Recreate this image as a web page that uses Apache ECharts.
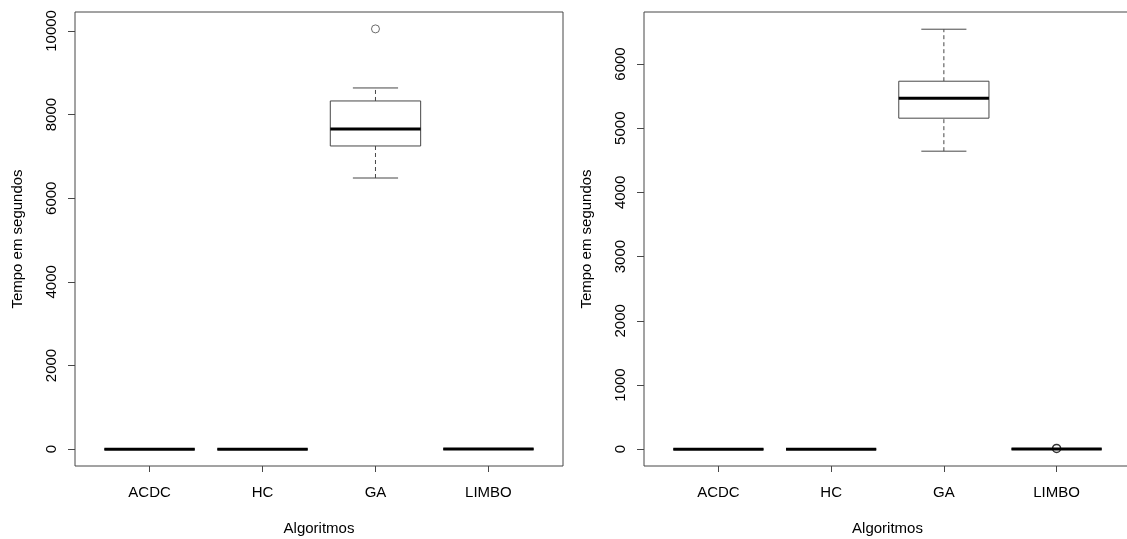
<!DOCTYPE html>
<html>
<head>
<meta charset="utf-8">
<script src="https://cdn.jsdelivr.net/npm/echarts@6/dist/echarts.min.js"></script>
<style>
  html, body { margin: 0; padding: 0; background: #fff; }
  #chart { width: 1127px; height: 539px; }
</style>
</head>
<body>
<div id="chart"></div>
<script>
// categorias (eixo x)
const algoritmos = ['ACDC', 'HC', 'GA', 'LIMBO']

// painel esquerdo: [min, q1, mediana, q3, max]
const boxesLeft = [
  [0.4, 0.6, 0.8, 1.0, 1.3],
  [0.5, 0.7, 0.9, 1.1, 1.4],
  [6483, 7249, 7656, 8325, 8636],
  [2.1, 2.6, 3.0, 3.4, 3.9]
]
const outliersLeft = [[3, 10048]]
const ticksLeft = [0, 2000, 4000, 6000, 8000, 10000]

// painel direito
const boxesRight = [
  [0.3, 0.5, 0.7, 0.9, 1.2],
  [0.4, 0.6, 0.8, 1.0, 1.3],
  [4642, 5156, 5467, 5732, 6542],
  [1.8, 2.2, 2.6, 3.0, 3.5]
]
const outliersRight = [[4, 12]]
const ticksRight = [0, 1000, 2000, 3000, 4000, 5000, 6000]

const chart = echarts.init(document.getElementById('chart'))

const font = 'Liberation Sans, Arial, Helvetica, sans-serif'
const fontSize = 15
const lineColor = '#474747'

// desenha uma caixa no estilo do boxplot do R
const renderBox = (params, api) => {
  const x = api.value(0)
  const lo = api.value(1), q1 = api.value(2), med = api.value(3), q3 = api.value(4), hi = api.value(5)
  const halfBox = api.size([0.4, 0])[0]
  const halfCap = api.size([0.2, 0])[0]
  const pLo = api.coord([x, lo]), pQ1 = api.coord([x, q1]), pMed = api.coord([x, med])
  const pQ3 = api.coord([x, q3]), pHi = api.coord([x, hi])
  const thin = { stroke: lineColor, lineWidth: 1 }
  const dashed = { stroke: lineColor, lineWidth: 1, lineDash: [4, 3] }
  return {
    type: 'group',
    children: [
      { type: 'line', shape: { x1: pLo[0], y1: pLo[1], x2: pQ1[0], y2: pQ1[1] }, style: dashed },
      { type: 'line', shape: { x1: pQ3[0], y1: pQ3[1], x2: pHi[0], y2: pHi[1] }, style: dashed },
      { type: 'line', shape: { x1: pLo[0] - halfCap, y1: pLo[1], x2: pLo[0] + halfCap, y2: pLo[1] }, style: thin },
      { type: 'line', shape: { x1: pHi[0] - halfCap, y1: pHi[1], x2: pHi[0] + halfCap, y2: pHi[1] }, style: thin },
      { type: 'rect', shape: { x: pQ3[0] - halfBox, y: pQ3[1], width: halfBox * 2, height: pQ1[1] - pQ3[1] },
        style: { fill: '#fff', stroke: lineColor, lineWidth: 1 } },
      { type: 'line', shape: { x1: pMed[0] - halfBox, y1: pMed[1], x2: pMed[0] + halfBox, y2: pMed[1] },
        style: { stroke: '#000', lineWidth: 3 } }
    ]
  }
}

const makeXAxis = (gridIndex) => ({
  type: 'value',
  gridIndex: gridIndex,
  min: 0.34,
  max: 4.66,
  name: 'Algoritmos',
  nameLocation: 'middle',
  nameGap: 55,
  nameTextStyle: { fontFamily: font, fontSize: fontSize, color: '#000' },
  splitLine: { show: false },
  axisLine: { show: false, onZero: false },
  axisTick: { show: true, length: 6, customValues: [1, 2, 3, 4], lineStyle: { color: lineColor } },
  axisLabel: {
    customValues: [1, 2, 3, 4],
    margin: 19,
    fontFamily: font, fontSize: fontSize, color: '#000',
    formatter: (v) => algoritmos[Math.round(v) - 1]
  }
})

const makeYAxis = (gridIndex, min, max, ticks) => ({
  type: 'value',
  gridIndex: gridIndex,
  min: min,
  max: max,
  name: 'Tempo em segundos',
  nameLocation: 'middle',
  nameRotate: 90,
  nameGap: 50,
  nameTextStyle: { fontFamily: font, fontSize: fontSize, color: '#000' },
  splitLine: { show: false },
  axisLine: { show: false, onZero: false },
  axisTick: { show: true, length: 7, customValues: ticks, lineStyle: { color: lineColor } },
  axisLabel: {
    customValues: ticks,
    rotate: 90,
    margin: 16,
    fontFamily: font, fontSize: fontSize, color: '#000',
    formatter: (v) => String(Math.round(v))
  }
})

const options = {
  animation: false,
  backgroundColor: '#fff',
  grid: [
    { left: 75, top: 12, width: 488, height: 454, outerBoundsMode: 'none',
      show: true, borderColor: lineColor, borderWidth: 1 },
    { left: 644, top: 12, width: 487, height: 454, outerBoundsMode: 'none',
      show: true, borderColor: lineColor, borderWidth: 1 }
  ],
  xAxis: [makeXAxis(0), makeXAxis(1)],
  yAxis: [
    makeYAxis(0, -402, 10452, ticksLeft),
    makeYAxis(1, -262, 6810, ticksRight)
  ],
  series: [
    {
      type: 'custom',
      xAxisIndex: 0, yAxisIndex: 0,
      renderItem: renderBox,
      data: boxesLeft.map((b, i) => [i + 1].concat(b))
    },
    {
      type: 'scatter',
      xAxisIndex: 0, yAxisIndex: 0,
      symbol: 'circle', symbolSize: 8,
      itemStyle: { color: 'rgba(0,0,0,0)', borderColor: lineColor, borderWidth: 1 },
      data: outliersLeft
    },
    {
      type: 'custom',
      xAxisIndex: 1, yAxisIndex: 1,
      renderItem: renderBox,
      data: boxesRight.map((b, i) => [i + 1].concat(b))
    },
    {
      type: 'scatter',
      xAxisIndex: 1, yAxisIndex: 1,
      symbol: 'circle', symbolSize: 8,
      itemStyle: { color: 'rgba(0,0,0,0)', borderColor: '#000', borderWidth: 1.5 },
      z: 5,
      data: outliersRight
    }
  ]
}

chart.setOption(options)

window.addEventListener('resize', () => {
  chart.resize()
})
</script>
</body>
</html>
